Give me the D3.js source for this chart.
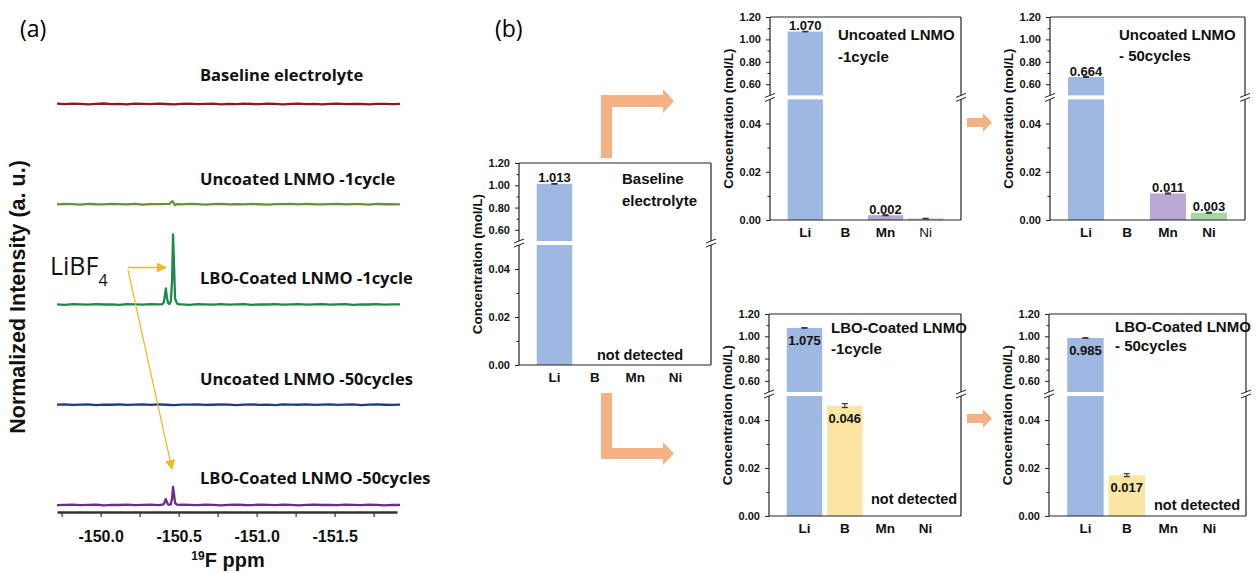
<!DOCTYPE html>
<html>
<head>
<meta charset="utf-8">
<script src="https://cdn.jsdelivr.net/npm/d3@7"></script>
<style>
body { margin: 0; background: #fff; }
svg { display: block; font-family: "Liberation Sans", Arial, sans-serif; }
</style>
</head>
<body>
<svg id="fig" width="1258" height="573"></svg>
<script>
// ---------- data: panel (a), 19F NMR traces ----------
var gridStart = -149.72, gridStep = 0.05;   // sampling grid of the spectra (ppm)
var traceNames = ["Baseline electrolyte", "Uncoated LNMO -1cycle", "LBO-Coated LNMO -1cycle",
                  "Uncoated LNMO -50cycles", "LBO-Coated LNMO -50cycles"];
var traceColors = ["#8b1c1c", "#6b8f3a", "#1d8a4b", "#1f3a8f", "#6c2c8c"];
var traceOffsets = [4, 3, 2, 1, 0];

var baselineNoise = [0.003,-0.002,0.004,0.001,-0.003,0.002,0.005,-0.001,0.002,
  -0.004,0.003,0.001,-0.002,0.004,0.000,-0.003,0.002,0.003,
  -0.002,0.001,0.004,-0.003,0.002,-0.001,0.003,0.000,-0.002,
  0.004,0.001,-0.003,0.002,0.003,-0.001,0.002,-0.004,0.001,
  0.003,-0.002,0.000,0.002,-0.003,0.001,0.002,-0.002,0.001];
var uncoated1Noise = [-0.002,0.003,0.001,-0.003,0.004,0.000,-0.002,0.003,0.002,
  -0.001,0.004,-0.003,0.002,0.001,0.000,0.000,-0.002,0.003,
  0.001,-0.003,0.002,0.004,-0.001,0.002,-0.002,0.003,0.000,
  -0.003,0.002,0.001,0.004,-0.002,0.003,0.000,-0.001,0.002,
  0.003,-0.002,0.001,0.002,-0.003,0.004,0.000,0.002,-0.001];
var lbo1Noise = [0.002,-0.003,0.004,0.001,-0.002,0.003,0.000,0.002,-0.003,
  0.004,0.001,-0.002,0.003,0.002,0.000,0.000,0.001,-0.003,
  0.003,0.002,-0.001,0.004,-0.002,0.001,0.003,-0.003,0.002,
  0.000,0.003,-0.002,0.001,0.004,-0.001,0.002,0.003,-0.002,
  0.001,0.004,-0.003,0.002,0.000,0.003,-0.001,0.002,0.001];
var uncoated50Noise = [0.001,0.003,-0.002,0.002,0.004,-0.003,0.001,0.000,0.003,
  -0.002,0.002,0.004,-0.001,0.003,0.000,-0.003,0.002,0.001,
  0.004,-0.002,0.000,0.003,0.001,-0.003,0.002,0.004,-0.001,
  0.002,-0.003,0.003,0.001,0.000,0.004,-0.002,0.001,0.003,
  -0.001,0.002,0.004,-0.003,0.001,0.003,0.000,-0.002,0.002];
var lbo50Noise = [-0.001,0.002,0.003,-0.002,0.001,0.004,-0.003,0.002,0.000,
  0.003,-0.001,0.002,0.004,-0.002,0.000,0.000,0.003,0.001,
  -0.002,0.004,0.001,-0.003,0.002,0.003,0.000,-0.001,0.004,
  0.001,-0.002,0.003,0.002,-0.003,0.001,0.004,0.000,0.002,
  -0.001,0.003,0.002,-0.002,0.004,0.001,-0.003,0.002,0.000];

// peak regions [ppm, intensity]
var uncoated1Peak = [[-150.44,0.004],[-150.452,0.02],[-150.46,0.03],[-150.468,0.012],[-150.476,-0.01],[-150.49,0.002]];
var lbo1Peak = [[-150.395,0.004],[-150.405,0.02],[-150.412,0.09],[-150.418,0.16],[-150.424,0.08],[-150.432,0.015],
  [-150.44,0.004],[-150.45,0.03],[-150.458,0.25],[-150.464,0.70],[-150.47,0.42],[-150.477,0.06],[-150.49,0.008],[-150.505,0.002]];
var lbo50Peak = [[-150.395,0.003],[-150.405,0.01],[-150.412,0.035],[-150.418,0.06],[-150.424,0.03],[-150.432,0.006],
  [-150.44,0.002],[-150.45,0.008],[-150.458,0.07],[-150.464,0.18],[-150.47,0.11],[-150.477,0.02],[-150.49,0.004],[-150.505,0.001]];

var ppmTicks = [-149.75,-150.0,-150.25,-150.5,-150.75,-151.0,-151.25,-151.5,-151.75];
var ppmLabels = [-150.0,-150.5,-151.0,-151.5];

// ---------- data: panel (b), ICP concentrations ----------
var elements = ["Li", "B", "Mn", "Ni"];
var barColors = ["#9fb8e1", "#fae6a2", "#b9a7d6", "#a3d8a0"];
var topTicks = [0.6, 0.8, 1.0, 1.2], topMinor = [0.7, 0.9, 1.1];
var botTicks = [0.00, 0.02, 0.04], botMinor = [0.01, 0.03];

var baselineVals = [1.013, 0, 0, 0];
var baselineErr = [0.002, 0, 0, 0];
var baselineLbl = ["1.013", "", "", ""];
var uncoated1Vals = [1.070, 0, 0.002, 0.0006];
var uncoated1Err = [0.002, 0, 0.0002, 0.0001];
var uncoated1Lbl = ["1.070", "", "0.002", ""];
var uncoated50Vals = [0.664, 0, 0.011, 0.003];
var uncoated50Err = [0.003, 0, 0.0002, 0.0002];
var uncoated50Lbl = ["0.664", "", "0.011", "0.003"];
var lbo1Vals = [1.075, 0.046, 0, 0];
var lbo1Err = [0.002, 0.0008, 0, 0];
var lbo1Lbl = ["1.075", "0.046", "", ""];
var lbo50Vals = [0.985, 0.017, 0, 0];
var lbo50Err = [0.002, 0.0006, 0, 0];
var lbo50Lbl = ["0.985", "0.017", "", ""];

var svg = d3.select("#fig");

// ================= panel (a) =================
svg.append("text").attr("x", 20).attr("y", 37).style("font-family", "Open Sans")
  .style("font-size", "23px").text("(a)");

var xA = d3.scaleLinear().domain([-149.72, -151.9]).range([57, 397]);
var yA = d3.scaleLinear().domain([0, 4]).range([505, 104]);

function buildTrace(noise, offset, peak) {
  var pts = noise.map(function(v, i) { return [gridStart - gridStep * i, v]; });
  if (peak) {
    pts = pts.filter(function(p) { return p[0] > -150.39 || p[0] < -150.51; }).concat(peak);
    pts.sort(function(a, b) { return b[0] - a[0]; });
  }
  return pts.map(function(p) { return [p[0], p[1] + offset]; });
}

var traces = [
  buildTrace(baselineNoise, traceOffsets[0]),
  buildTrace(uncoated1Noise, traceOffsets[1], uncoated1Peak),
  buildTrace(lbo1Noise, traceOffsets[2], lbo1Peak),
  buildTrace(uncoated50Noise, traceOffsets[3]),
  buildTrace(lbo50Noise, traceOffsets[4], lbo50Peak)
];

var line = d3.line().x(function(d) { return xA(d[0]); }).y(function(d) { return yA(d[1]); });

svg.append("g").selectAll("path").data(traces).enter().append("path")
  .attr("d", line).attr("fill", "none")
  .attr("stroke", function(d, i) { return traceColors[i]; })
  .attr("stroke-width", 2.3).attr("stroke-linejoin", "round");

// trace labels
var labelBase = [81, 185, 284, 385, 484];
svg.append("g").selectAll("text").data(traceNames).enter().append("text")
  .attr("x", 200).attr("y", function(d, i) { return labelBase[i]; })
  .style("font-family", "Open Sans").style("font-weight", 700).style("font-size", "16.5px")
  .attr("fill", "#111").text(function(d) { return d; });

// x axis
var axA = svg.append("g").attr("transform", "translate(0,512)")
  .call(d3.axisBottom(xA).tickValues(ppmTicks).tickSize(5).tickSizeOuter(0).tickPadding(14)
    .tickFormat(function(d) { return ppmLabels.indexOf(d) >= 0 ? d.toFixed(1) : ""; }));
axA.select(".domain").attr("stroke", "#333").attr("stroke-width", 2.5);
axA.selectAll(".tick line").attr("stroke", "#333").attr("stroke-width", 1.2);
axA.selectAll(".tick text").style("font-size", "16px").style("font-weight", 700).attr("fill", "#111");

var xl = svg.append("text").attr("x", 228).attr("y", 567).attr("text-anchor", "middle")
  .style("font-size", "20px").style("font-weight", 700).attr("fill", "#111");
xl.append("tspan").style("font-size", "12px").attr("dy", "-7").text("19");
xl.append("tspan").attr("dy", "7").text("F ppm");

svg.append("text").attr("transform", "translate(25,297) rotate(-90)").attr("text-anchor", "middle")
  .style("font-size", "21.5px").style("font-weight", 700).attr("fill", "#111")
  .text("Normalized Intensity (a. u.)");

// LiBF4 annotation
var lb = svg.append("text").attr("x", 50).attr("y", 275).style("font-family", "Open Sans")
  .style("font-size", "25px").attr("fill", "#111");
lb.append("tspan").text("LiBF");
lb.append("tspan").style("font-size", "16px").attr("dy", "11").text("4");

var defs = svg.append("defs");
defs.append("marker").attr("id", "goldHead").attr("viewBox", "0 0 10 10").attr("refX", 9).attr("refY", 5)
  .attr("markerWidth", 10).attr("markerHeight", 10).attr("markerUnits", "userSpaceOnUse").attr("orient", "auto")
  .append("path").attr("d", "M0,0 L10,5 L0,10 Z").attr("fill", "#f6b622");
svg.append("line").attr("x1", 128).attr("y1", 267.5).attr("x2", 166).attr("y2", 267.5)
  .attr("stroke", "#f6b622").attr("stroke-width", 1.4).attr("marker-end", "url(#goldHead)");
svg.append("line").attr("x1", 128).attr("y1", 270).attr("x2", 172).attr("y2", 469)
  .attr("stroke", "#f6b622").attr("stroke-width", 1.2).attr("marker-end", "url(#goldHead)");

// ================= panel (b) =================
svg.append("text").attr("x", 495).attr("y", 37).style("font-family", "Open Sans")
  .style("font-size", "23px").text("(b)");

var orange = "#f4b183";
function arrow(pts) {
  svg.append("polygon").attr("points", pts.map(function(p) { return p.join(","); }).join(" ")).attr("fill", orange);
}
arrow([[601,158],[601,95],[663,95],[663,89],[674,101],[663,113],[663,107],[612,107],[612,158]]);
arrow([[601,393],[612,393],[612,448],[663,448],[663,442],[674,453.5],[663,465],[663,459],[601,459]]);
arrow([[967,118],[983,118],[983,113],[992,122.5],[983,132],[983,127],[967,127]]);
arrow([[967,414],[983,414],[983,409],[992,418.5],[983,428],[983,423],[967,423]]);

var charts = [
  { x: 519, y: 163, w: 192, h: 202, vals: baselineVals, err: baselineErr, lbl: baselineLbl, inside: false,
    title: ["Baseline", "electrolyte"], tx: 622, ty: [184, 206], nd: [597, 360] },
  { x: 770, y: 17, w: 191, h: 203, vals: uncoated1Vals, err: uncoated1Err, lbl: uncoated1Lbl, inside: false,
    title: ["Uncoated LNMO", "-1cycle"], tx: 838, ty: [40, 62], thinNi: true },
  { x: 1050, y: 17, w: 195, h: 203, vals: uncoated50Vals, err: uncoated50Err, lbl: uncoated50Lbl, inside: false,
    title: ["Uncoated LNMO", "- 50cycles"], tx: 1119, ty: [40, 61] },
  { x: 769, y: 314, w: 192, h: 202, vals: lbo1Vals, err: lbo1Err, lbl: lbo1Lbl, inside: true,
    title: ["LBO-Coated LNMO", "-1cycle"], tx: 831, ty: [333, 354], nd: [871, 504] },
  { x: 1049, y: 314, w: 197, h: 202, vals: lbo50Vals, err: lbo50Err, lbl: lbo50Lbl, inside: true,
    title: ["LBO-Coated LNMO", "- 50cycles"], tx: 1115, ty: [332, 351], nd: [1154, 510] }
];

function drawChart(c) {
  var g = svg.append("g");
  var x = d3.scalePoint().domain(elements).range([c.x, c.x + c.w]).padding(0.88);
  var topH = c.h * 78 / 202, gap = c.h * 4 / 202;
  var yTop = d3.scaleLinear().domain([0.5, 1.2]).range([c.y + topH, c.y]);
  var yBot = d3.scaleLinear().domain([0, 0.05]).range([c.y + c.h, c.y + topH + gap]);
  var yOf = function(v) { return v > 0.05 ? yTop(v) : yBot(v); };
  var bw = x.step() * 0.88;

  c.vals.forEach(function(v, i) {
    if (v <= 0) return;
    var cx = x(elements[i]);
    if (v > 0.05) {
      g.append("rect").attr("x", cx - bw / 2).attr("width", bw).attr("y", yTop(v))
        .attr("height", yTop(0.5) - yTop(v)).attr("fill", barColors[i]);
      g.append("rect").attr("x", cx - bw / 2).attr("width", bw).attr("y", yBot(0.05))
        .attr("height", yBot(0) - yBot(0.05)).attr("fill", barColors[i]);
    } else {
      g.append("rect").attr("x", cx - bw / 2).attr("width", bw).attr("y", yBot(v))
        .attr("height", yBot(0) - yBot(v)).attr("fill", barColors[i]);
    }
    // error bar
    var e = c.err[i], y1 = yOf(v + e), y2 = yOf(v - e);
    g.append("line").attr("x1", cx).attr("x2", cx).attr("y1", y1).attr("y2", y2).attr("stroke", "#333");
    [y1, y2].forEach(function(yy) {
      g.append("line").attr("x1", cx - 3).attr("x2", cx + 3).attr("y1", yy).attr("y2", yy)
        .attr("stroke", "#333").attr("stroke-width", 1.2);
    });
    if (c.lbl[i]) {
      var inside = c.inside;
      g.append("text").attr("x", cx).attr("y", inside ? yOf(v) + 17 : yOf(v) - 1.5)
        .attr("text-anchor", "middle").style("font-size", "13px").style("font-weight", 700)
        .attr("fill", "#111").text(c.lbl[i]);
    }
  });

  // y axes
  function yAxis(scale, ticks, minor) {
    var a = g.append("g").attr("transform", "translate(" + c.x + ",0)")
      .call(d3.axisLeft(scale).tickValues(ticks).tickSize(4).tickPadding(5).tickFormat(d3.format(".2f")));
    a.select(".domain").remove();
    a.selectAll(".tick line").attr("stroke", "#222");
    a.selectAll(".tick text").style("font-size", "11px").style("font-weight", 700).attr("fill", "#111");
    var m = g.append("g").attr("transform", "translate(" + c.x + ",0)")
      .call(d3.axisLeft(scale).tickValues(minor).tickSize(2.5).tickFormat(""));
    m.select(".domain").remove();
    m.selectAll(".tick line").attr("stroke", "#222");
  }
  yAxis(yTop, topTicks, topMinor);
  yAxis(yBot, botTicks, botMinor);

  // frame with break
  var yb1 = c.y + topH, yb2 = c.y + topH + gap;
  [c.x, c.x + c.w].forEach(function(xx) {
    g.append("line").attr("x1", xx).attr("x2", xx).attr("y1", c.y).attr("y2", yb1).attr("stroke", "#222").attr("stroke-width", 1.2);
    g.append("line").attr("x1", xx).attr("x2", xx).attr("y1", yb2).attr("y2", c.y + c.h).attr("stroke", "#222").attr("stroke-width", 1.2);
    [yb1, yb2].forEach(function(yy) {
      g.append("line").attr("x1", xx - 5).attr("x2", xx + 5).attr("y1", yy + 2).attr("y2", yy - 2)
        .attr("stroke", "#222").attr("stroke-width", 1);
    });
  });
  g.append("line").attr("x1", c.x).attr("x2", c.x + c.w).attr("y1", c.y).attr("y2", c.y).attr("stroke", "#222").attr("stroke-width", 1.2);
  g.append("line").attr("x1", c.x).attr("x2", c.x + c.w).attr("y1", c.y + c.h).attr("y2", c.y + c.h).attr("stroke", "#222").attr("stroke-width", 1.2);

  // category labels
  elements.forEach(function(el) {
    g.append("text").attr("x", x(el)).attr("y", c.y + c.h + 17).attr("text-anchor", "middle")
      .style("font-size", "13.5px").style("font-weight", (c.thinNi && el === "Ni") ? 400 : 700)
      .attr("fill", "#111").text(el);
  });

  // y label
  g.append("text").attr("transform", "translate(" + (c.x - 37) + "," + (c.y + c.h / 2) + ") rotate(-90)")
    .attr("text-anchor", "middle").style("font-size", "13.5px").style("font-weight", 700)
    .attr("fill", "#111").text("Concentration (mol/L)");

  // title
  c.title.forEach(function(t, k) {
    g.append("text").attr("x", c.tx).attr("y", c.ty[k]).style("font-size", "15px").style("font-weight", 700)
      .attr("fill", "#111").text(t);
  });
  if (c.nd) {
    g.append("text").attr("x", c.nd[0]).attr("y", c.nd[1]).style("font-size", "14.5px").style("font-weight", 700)
      .attr("fill", "#111").text("not detected");
  }
}

charts.forEach(drawChart);
</script>
</body>
</html>
